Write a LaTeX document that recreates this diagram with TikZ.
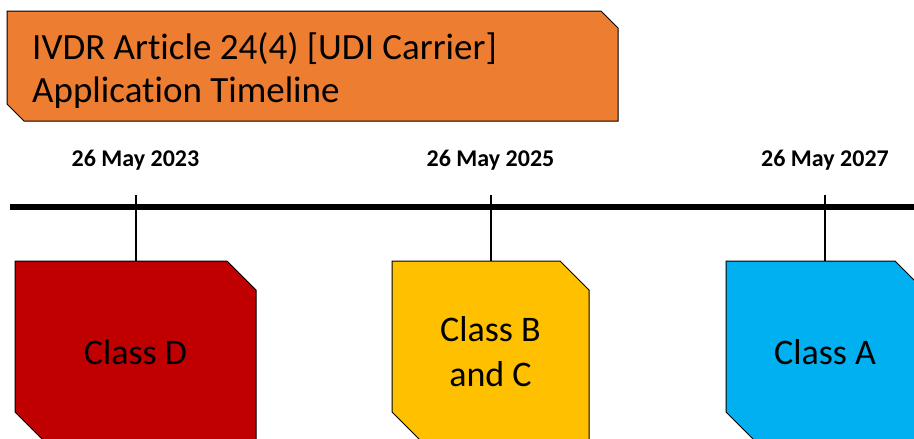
\documentclass[tikz,border=0pt]{standalone}
\usepackage{fontspec}
\setmainfont[Ligatures=NoCommon]{Carlito}
\definecolor{titleorange}{HTML}{ED7D31}
\definecolor{classred}{HTML}{C00000}
\definecolor{classyellow}{HTML}{FFC000}
\definecolor{classblue}{HTML}{00B0F0}
\tikzset{
  boxline/.style={draw=black, line width=1pt, line join=miter},
  titletext/.style={font=\fontsize{37}{43}\selectfont, align=left, inner sep=0pt},
  classtext/.style={font=\fontsize{36}{45}\selectfont, align=center, inner sep=0pt},
  datelabel/.style={font=\fontsize{24}{28}\selectfont\bfseries, inner sep=0pt, anchor=base},
  timeline/.style={line width=6pt, black},
  tickline/.style={line width=2pt, black}
}
% box with chamfered top-right and bottom-left corners:
% #1 options, #2 left, #3 top, #4 right, #5 bottom, #6 chamfer
\newcommand{\cutbox}[6][]{%
  \path[boxline,#1] (#2,#3) -- ({#4-#6},#3) -- (#4,{#3+#6}) -- (#4,#5)
    -- ({#2+#6},#5) -- (#2,{#5-#6}) -- cycle;}
\begin{document}
\begin{tikzpicture}[x=1pt,y=-1pt]
\useasboundingbox (0,0) rectangle (914,439);
\clip (0,0) rectangle (914,439);

% heading
\cutbox[fill=titleorange]{7}{11}{618}{121}{17}
\node[titletext, anchor=base west] (titletext) at (32,102)
  {IVDR Article 24(4) [UDI Carrier]\\Application Timeline};

% time axis
\coordinate (axisstart) at (10,207);
\coordinate (axisend) at (930,207);
\draw[timeline] (axisstart) -- (axisend);

% dates
\node[datelabel] (d2023) at (135.5,166) {26 May 2023};
\node[datelabel] (d2025) at (490.5,166) {26 May 2025};
\node[datelabel] (d2027) at (825,166) {26 May 2027};

% device classes
\cutbox[fill=classred]{15}{261}{256}{441}{29}
\cutbox[fill=classyellow]{392}{261}{589}{441}{29}
\cutbox[fill=classblue]{726}{261}{924}{441}{29}
\node[classtext] (classD) at (135.5,352) {Class D};
\node[classtext] (classBC) at (490.5,352) {Class B\\and C};
\node[classtext] (classA) at (825,352) {Class A};
\coordinate (topD) at (135.5,261);
\coordinate (topBC) at (490.5,261);
\coordinate (topA) at (825,261);

% ticks from the axis down to each class
\coordinate (tick1) at (135.5,195);
\coordinate (tick2) at (490.5,195);
\coordinate (tick3) at (825,195);
\draw[tickline] (tick1) -- (topD);
\draw[tickline] (tick2) -- (topBC);
\draw[tickline] (tick3) -- (topA);
\end{tikzpicture}
\end{document}
